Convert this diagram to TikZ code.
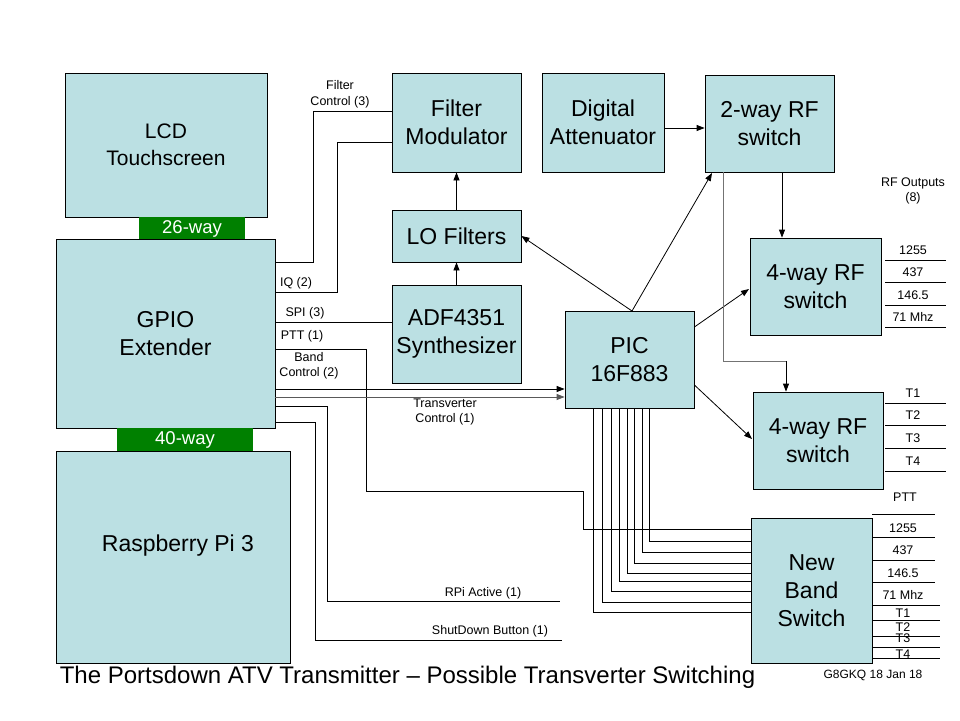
\documentclass[tikz,border=0pt]{standalone}
\usepackage{fontspec}
\setmainfont{Liberation Sans}
\usetikzlibrary{arrows.meta}
\definecolor{boxblue}{RGB}{187,224,227}
\definecolor{conngreen}{RGB}{0,128,0}
\definecolor{wiregray}{RGB}{115,115,115}
\begin{document}
\begin{tikzpicture}[x=1pt,y=-1pt,
  box/.style={draw=black, fill=boxblue, line width=0.8pt, inner sep=0pt, align=center,
    font=\fontsize{23}{28}\selectfont},
  greenbox/.style={fill=conngreen, text=white, inner sep=0pt, font=\fontsize{18.5}{22}\selectfont},
  lbl/.style={font=\fontsize{12.5}{15.5}\selectfont, inner sep=0pt, align=center},
  wire/.style={line width=0.8pt},
  arr/.style={wire, -{Triangle[length=8pt,width=6pt]}}]
\useasboundingbox (0,0) rectangle (960,720);
\fill[white] (0,0) rectangle (960,720);

% boxes
\node[box, minimum width=202pt, minimum height=144pt, font=\fontsize{21}{27}\selectfont] (lcd) at (166,145) {LCD\\Touchscreen};
\node[greenbox, minimum width=106pt, minimum height=23pt] (c26) at (192,228.5) {26-way};
\node[box, minimum width=219pt, minimum height=189pt] (gpio) at (165.5,333.5) {GPIO\\Extender};
\node[greenbox, minimum width=136pt, minimum height=23pt] (c40) at (185,439.5) {40-way};
\node[box, minimum width=234pt, minimum height=212pt] (rpi) at (173,557) {};
\node[font=\fontsize{23}{28}\selectfont, inner sep=0pt] (rpit) at (178,546) {Raspberry Pi 3};

\node[box, minimum width=129pt, minimum height=99pt] (fm) at (456.5,122.5) {Filter\\Modulator};
\node[box, minimum width=122pt, minimum height=99pt] (da) at (603,122.5) {Digital\\Attenuator};
\node[box, minimum width=129pt, minimum height=97pt] (sw2) at (769.5,123.5) {2-way RF\\switch};
\node[box, minimum width=129pt, minimum height=52pt] (lo) at (456.5,236) {LO Filters};
\node[box, minimum width=129pt, minimum height=98pt] (adf) at (456.5,334) {ADF4351\\Synthesizer};
\node[box, minimum width=129pt, minimum height=97pt] (pic) at (629.5,359.5) {PIC\\16F883};
\node[box, minimum width=131pt, minimum height=97pt] (swa) at (815.5,286.5) {4-way RF\\switch};
\node[box, minimum width=130pt, minimum height=97pt] (swb) at (818,440.5) {4-way RF\\switch};
\node[box, minimum width=121pt, minimum height=145pt] (nbs) at (811.5,590.5) {New\\Band\\Switch};

% top chain arrows
\draw[arr] (da.east |- 0,128) -- (sw2.west |- 0,128);
\draw[arr] (lo.north) -- (fm.south);
\draw[arr] (adf.north) -- (lo.south);
\coordinate (pictop) at (632,311);
\draw[arr] (pictop) -- (lo.east |- 0,236);
\draw[arr] (pictop) -- (712,173);
\draw[arr] (pic.east |- 0,327) -- (749,289);
\draw[arr] (pic.east |- 0,385) -- (752,439);
\draw[arr] (sw2.south -| 782,0) -- (swa.north -| 782,0);
\draw[wire, draw=wiregray] (sw2.south -| 723,0) -- (723,361) -- (786,361);
\draw[arr] (786,361) -- (swb.north -| 786,0);

% GPIO connections
\draw[wire] (gpio.east |- 0,262) -| (313,111) -- (fm.west |- 0,111);
\draw[wire] (gpio.east |- 0,292) -| (337,142) -- (fm.west |- 0,142);
\draw[wire] (gpio.east |- 0,322) -- (adf.west |- 0,322);
\draw[wire] (gpio.east |- 0,349) -| (366,491) -| (583,529) -- (nbs.west |- 0,529);
\draw[arr] (gpio.east |- 0,389) -- (pic.west |- 0,389);
\draw[arr, draw=black!65] (gpio.east |- 0,397) -- (pic.west |- 0,397);
\coordinate (rpiend) at (560,601);
\coordinate (sdend) at (562,640);
\draw[wire] (gpio.east |- 0,406) -| (327,601) -- (rpiend);
\draw[wire] (gpio.east |- 0,422) -| (315,640) -- (sdend);

% PIC to New Band Switch
\foreach \x/\y in {593/612, 602/602, 611/591, 619/581, 627/573, 634/563, 642/552, 649/541}
  \draw[wire] (pic.south -| \x,0) |- (nbs.west |- 0,\y);

% small labels
\node[lbl] at (340,94.5) {Filter\\Control (3)};
\node[lbl] at (296,283) {IQ (2)};
\node[lbl] at (305,313) {SPI (3)};
\node[lbl] at (302,336) {PTT (1)};
\node[lbl] at (309,366) {Band\\Control (2)};
\node[lbl] at (445,412) {Transverter\\Control (1)};
\node[lbl] at (483,593) {RPi Active (1)};
\node[lbl] at (490,631) {ShutDown Button (1)};
\node[lbl] at (913,191) {RF Outputs\\(8)};

% outputs of 4-way A
\foreach \y/\t in {260/1255, 282/437, 305/146.5, 327/71 Mhz}{
  \draw[wire] (885,\y) -- (946,\y);
  \node[lbl] at (913,\y-10) {\t};
}
% outputs of 4-way B
\foreach \y/\t in {403/T1, 425/T2, 448/T3, 471/T4}{
  \draw[wire] (885,\y) -- (946,\y);
  \node[lbl] at (913,\y-10) {\t};
}
% New Band Switch outputs
\node[lbl] at (905,497) {PTT};
\foreach \y in {514,537,560,582}
  \draw[wire] (nbs.east |- 0,\y) -- (935,\y);
\foreach \y in {605,620,636,647,658}
  \draw[wire] (nbs.east |- 0,\y) -- (940,\y);
\node[lbl] at (903,528) {1255};
\node[lbl] at (903,550) {437};
\node[lbl] at (903,573) {146.5};
\node[lbl] at (903,595) {71 Mhz};
\node[lbl] at (903,613) {T1};
\node[lbl] at (903,627) {T2};
\node[lbl] at (903,638) {T3};
\node[lbl] at (903,654) {T4};

% title and credit
\node[inner sep=0pt, font=\fontsize{24}{28}\selectfont] (title) at (407.5,677) {The Portsdown ATV Transmitter – Possible Transverter Switching};
\node[inner sep=0pt, font=\fontsize{12}{14}\selectfont] (credit) at (873,675) {G8GKQ 18 Jan 18};
\end{tikzpicture}
\end{document}
